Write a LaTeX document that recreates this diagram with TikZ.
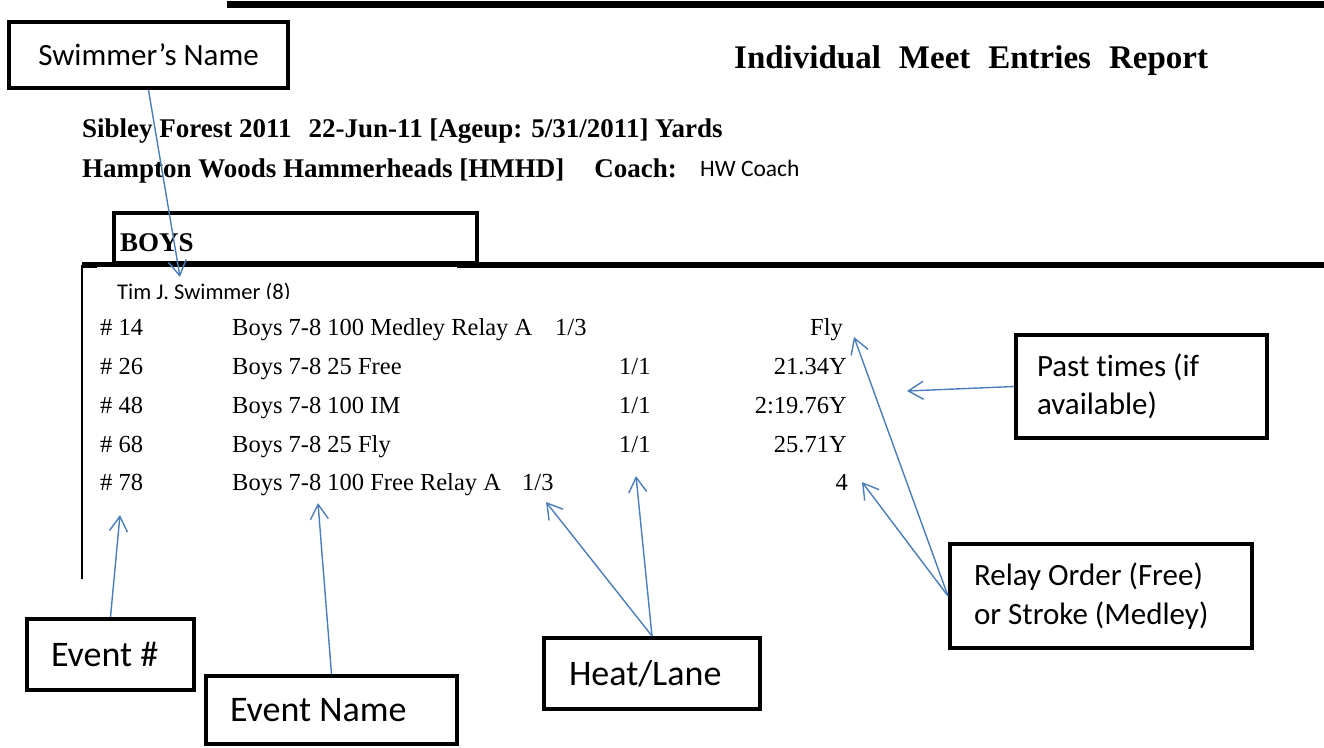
\documentclass[tikz,border=0pt]{standalone}
\usepackage{fontspec}
\setmainfont{Liberation Serif}
\newfontfamily\calib[Ligatures=NoCommon]{Carlito}
\usetikzlibrary{arrows.meta}
\definecolor{arrowblue}{RGB}{74,126,187}
\begin{document}
\begin{tikzpicture}[x=1pt,y=-1pt,
  box/.style={draw=black, line width=4pt, inner ysep=0pt, align=flush left, anchor=center},
  lbl/.style={font=\calib\fontsize{31}{38.5}\selectfont},
  biglbl/.style={font=\calib\fontsize{36}{42}\selectfont},
  ann/.style={draw=arrowblue, line width=1.4pt, -{Straight Barb[length=15pt,width=18pt,line width=1.4pt]}},
  rep/.style={font=\fontsize{24.5}{28}\selectfont, inner sep=0pt, anchor=base west},
  repr/.style={font=\fontsize{24.5}{28}\selectfont, inner sep=0pt, anchor=base east},
  hdr/.style={font=\bfseries\fontsize{27}{32}\selectfont, inner sep=0pt, anchor=base west}]
\useasboundingbox[fill=white] (0,0) rectangle (1324,747);

% rules
\draw[line width=7pt] (227,4) -- (1324,4);
\draw[line width=6pt] (82,265) -- (1324,265);
\draw[line width=1.5pt] (82,265) -- (82,579);

% title and header
\node[inner sep=0pt, anchor=base west, font=\bfseries\fontsize{33}{40}\selectfont] (title) at (734,68)
  {Individual\hspace{18pt}Meet\hspace{18pt}Entries\hspace{18pt}Report};
\node[hdr] (meet) at (82,137) {Sibley Forest 2011\hspace{17pt}22-Jun-11 [Ageup: 5/31/2011] Yards};
\node[hdr] (team) at (82,177) {Hampton Woods Hammerheads [HMHD]\hspace{30pt}Coach:};
\node[inner sep=0pt, anchor=base west, font=\calib\fontsize{23.5}{28}\selectfont] (coach) at (700,176) {HW Coach};

% BOYS tab
\node[draw=black, line width=4pt, minimum width=363pt, minimum height=50pt, inner sep=0pt] (boys) at (295.5,238) {};
\node[inner sep=0pt, anchor=base west, font=\bfseries\fontsize{27}{32}\selectfont] (boystxt) at (120,251) {BOYS};

% swimmer text box (white, covering the rule)
\fill[white] (97,266.5) rectangle (457,298);
\begin{scope}
\clip (97,266.5) rectangle (457,298.5);
\node[inner sep=0pt, anchor=base west, font=\calib\fontsize{22.5}{28}\selectfont] (tim) at (117,299.5) {Tim J. Swimmer (8)};
\end{scope}

% rows
\node[rep] (n1) at (100,335) {\# 14};
\node[rep] (e1) at (232,335) {Boys 7-8 100 Medley Relay A};
\node[rep] (h1) at (555,335) {1/3};
\node[repr] (t1) at (843,335) {Fly};

\node[rep] (n2) at (100,374) {\# 26};
\node[rep] (e2) at (232,374) {Boys 7-8 25 Free};
\node[rep] (h2) at (619,374) {1/1};
\node[repr] (t2) at (847,374) {21.34Y};

\node[rep] (n3) at (100,413) {\# 48};
\node[rep] (e3) at (232,413) {Boys 7-8 100 IM};
\node[rep] (h3) at (619,413) {1/1};
\node[repr] (t3) at (847,413) {2:19.76Y};

\node[rep] (n4) at (100,452) {\# 68};
\node[rep] (e4) at (232,452) {Boys 7-8 25 Fly};
\node[rep] (h4) at (619,452) {1/1};
\node[repr] (t4) at (847,452) {25.71Y};

\node[rep] (n5) at (100,490) {\# 78};
\node[rep] (e5) at (232,490) {Boys 7-8 100 Free Relay A};
\node[rep] (h5) at (522,490) {1/3};
\node[repr] (t5) at (848,490) {4};

% annotation boxes
\node[box, lbl, minimum width=279pt, minimum height=66pt, inner xsep=0pt] (swim) at (148.5,55) {Swimmer’s Name};
\node[box, lbl, text width=209pt, inner xsep=21pt, minimum height=103pt] (past) at (1141.5,386.5) {Past times (if\\available)};
\node[box, lbl, text width=254pt, inner xsep=24pt, minimum height=104pt] (relay) at (1101,596) {Relay Order (Free)\\or Stroke (Medley)};
\node[box, biglbl, text width=119pt, inner xsep=24pt, minimum height=71pt] (evnum) at (110.5,654.5) {Event \#};
\node[box, biglbl, text width=203pt, inner xsep=24pt, minimum height=68pt] (evname) at (331.5,710) {Event Name};
\node[box, biglbl, text width=166pt, inner xsep=25pt, minimum height=71pt] (heat) at (652,673.5) {Heat/Lane};

% arrow tips
\coordinate (tipswim) at (180,277);
\coordinate (tipnum) at (120,515);
\coordinate (tipname) at (318,503);
\coordinate (tipheatA) at (546,502);
\coordinate (tipheatB) at (636,476);
\coordinate (tippast) at (907,391);
\coordinate (tipfly) at (854,337);
\coordinate (tipfour) at (862,482);

% arrows
\draw[ann] (swim.south) -- (tipswim);
\draw[ann] (evnum.north) -- (tipnum);
\draw[ann] (evname.north) -- (tipname);
\draw[ann] (heat.north) -- (tipheatA);
\draw[ann] (heat.north) -- (tipheatB);
\draw[ann] (past.west) -- (tippast);
\draw[ann] (relay.west) -- (tipfly);
\draw[ann] (relay.west) -- (tipfour);
\end{tikzpicture}
\end{document}
